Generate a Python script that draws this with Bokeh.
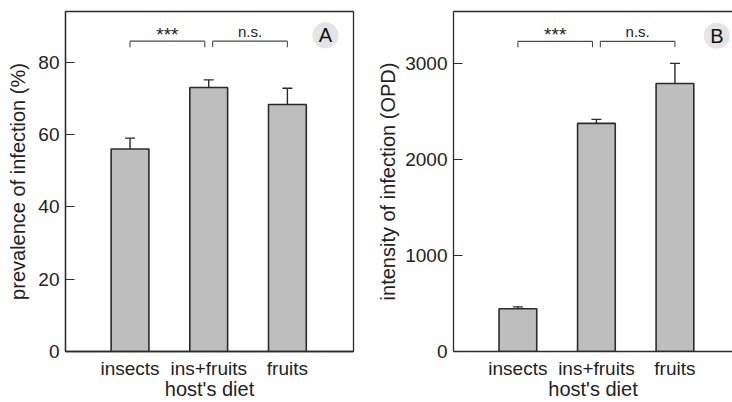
from bokeh.plotting import figure
from bokeh.layouts import row
from bokeh.models import Range1d, FixedTicker, Whisker, TeeHead, ColumnDataSource, LinearAxis
from bokeh.core.properties import value
from bokeh.embed import file_html
from bokeh.resources import INLINE

categories = ["insects", "ins+fruits", "fruits"]
prevalence = [56.0, 73.0, 68.3]
prevalence_err = [3.0, 2.1, 4.5]
intensity = [445, 2375, 2790]
intensity_err = [20, 42, 210]
sig_labels = ["***", "n.s."]
prev_ticks = [0, 20, 40, 60, 80]
int_ticks = [0, 1000, 2000, 3000]

FONT = "Liberation Sans"
BAR_FILL = "#bebebe"
DARK = "#2b2b2b"


def make_panel(vals, errs, ticks, ymax, ylabel, letter, width, xend, bl, br, outline,
               bracket_y, tip, letter_x, letter_y, ylab_standoff):
    xs = list(range(len(categories)))
    p = figure(width=width, height=402, output_backend="svg", toolbar_location=None,
               x_range=Range1d(-0.82, xend), y_range=Range1d(0, ymax),
               min_border_left=bl, min_border_right=br, min_border_top=11,
               min_border_bottom=51)
    p.grid.visible = False
    p.background_fill_color = "white"
    p.border_fill_color = "white"
    p.outline_line_color = DARK if outline else None
    p.outline_line_width = 1.3

    src = ColumnDataSource(dict(x=xs, top=vals, upper=[v + e for v, e in zip(vals, errs)]))
    p.add_layout(Whisker(source=src, base="x", lower="top", upper="upper",
                         line_color=DARK, line_width=1.4, lower_head=None,
                         upper_head=TeeHead(size=10, line_color=DARK, line_width=1.4)))
    p.vbar(x="x", top="top", width=0.48, bottom=0, source=src, fill_color=BAR_FILL,
           line_color=DARK, line_width=1.6)

    # significance brackets
    bx0 = [0, 1.05]
    bx1 = [0.95, 2]
    p.segment(x0=bx0, x1=bx1, y0=[bracket_y] * 2, y1=[bracket_y] * 2, line_color="#4a4a4a", line_width=1.1)
    p.segment(x0=bx0 + bx1, x1=bx0 + bx1, y0=[bracket_y] * 4, y1=[bracket_y - tip] * 4,
              line_color="#4a4a4a", line_width=1.1)
    mids = [(a + b) / 2 for a, b in zip(bx0, bx1)]
    p.text(x=mids[:1], y=[bracket_y], text=sig_labels[:1],
           text_align="center", text_baseline="alphabetic", y_offset=-7,
           text_font=value(FONT), text_font_size="19px", text_color="#222222")
    p.text(x=mids[1:], y=[bracket_y], text=sig_labels[1:],
           text_align="center", text_baseline="alphabetic", y_offset=-10,
           text_font=value(FONT), text_font_size="15px", text_color="#222222")

    # panel letter
    p.scatter(x=[letter_x], y=[letter_y], size=26, fill_color="#e4e4e4", line_color=None)
    p.text(x=[letter_x], y=[letter_y], text=[letter], text_align="center", text_baseline="middle",
           text_font=value(FONT), text_font_size="20px", text_color="#111111")

    xa = p.xaxis[0]
    xa.ticker = FixedTicker(ticks=xs)
    xa.major_label_overrides = {i: c for i, c in zip(xs, categories)}
    xa.major_tick_line_color = None
    xa.minor_tick_line_color = None
    xa.major_tick_out = 0
    xa.major_tick_in = 0
    xa.axis_line_color = DARK
    xa.axis_line_width = 1.3
    xa.major_label_standoff = 6
    xa.axis_label = "host's diet"
    xa.axis_label_standoff = -4

    ya = p.yaxis[0]
    ya.ticker = FixedTicker(ticks=ticks)
    ya.major_tick_in = 9
    ya.major_tick_out = 0
    ya.minor_tick_line_color = None
    ya.major_tick_line_color = DARK
    ya.major_tick_line_width = 1.2
    ya.axis_line_color = DARK
    ya.axis_line_width = 1.3
    ya.major_label_standoff = 6
    ya.axis_label = ylabel
    ya.axis_label_standoff = ylab_standoff

    for ax in (xa, ya):
        ax.major_label_text_font = FONT
        ax.major_label_text_font_size = "19px"
        ax.major_label_text_color = "#222222"
        ax.axis_label_text_font = FONT
        ax.axis_label_text_font_size = "20px"
        ax.axis_label_text_font_style = "normal"
        ax.axis_label_text_color = "#222222"

    if not outline:
        top = LinearAxis(ticker=FixedTicker(ticks=[]), axis_line_color=DARK, axis_line_width=1.3,
                         major_tick_line_color=None, minor_tick_line_color=None,
                         major_label_text_font_size="0px")
        p.add_layout(top, "above")
    return p


pA = make_panel(prevalence, prevalence_err, prev_ticks, 94, "prevalence of infection (%)", "A",
                373, 2.84, 65, 20, True, 85.8, 1.66, 2.484, 87.4, 6)
pB = make_panel(intensity, intensity_err, int_ticks, 3540, "intensity of infection (OPD)", "B",
                359, 2.733, 80, 0, False, 3229, 62, 2.534, 3288, 3)

layout = row(pA, pB)
open("out.html", "w").write(file_html(layout, INLINE))
